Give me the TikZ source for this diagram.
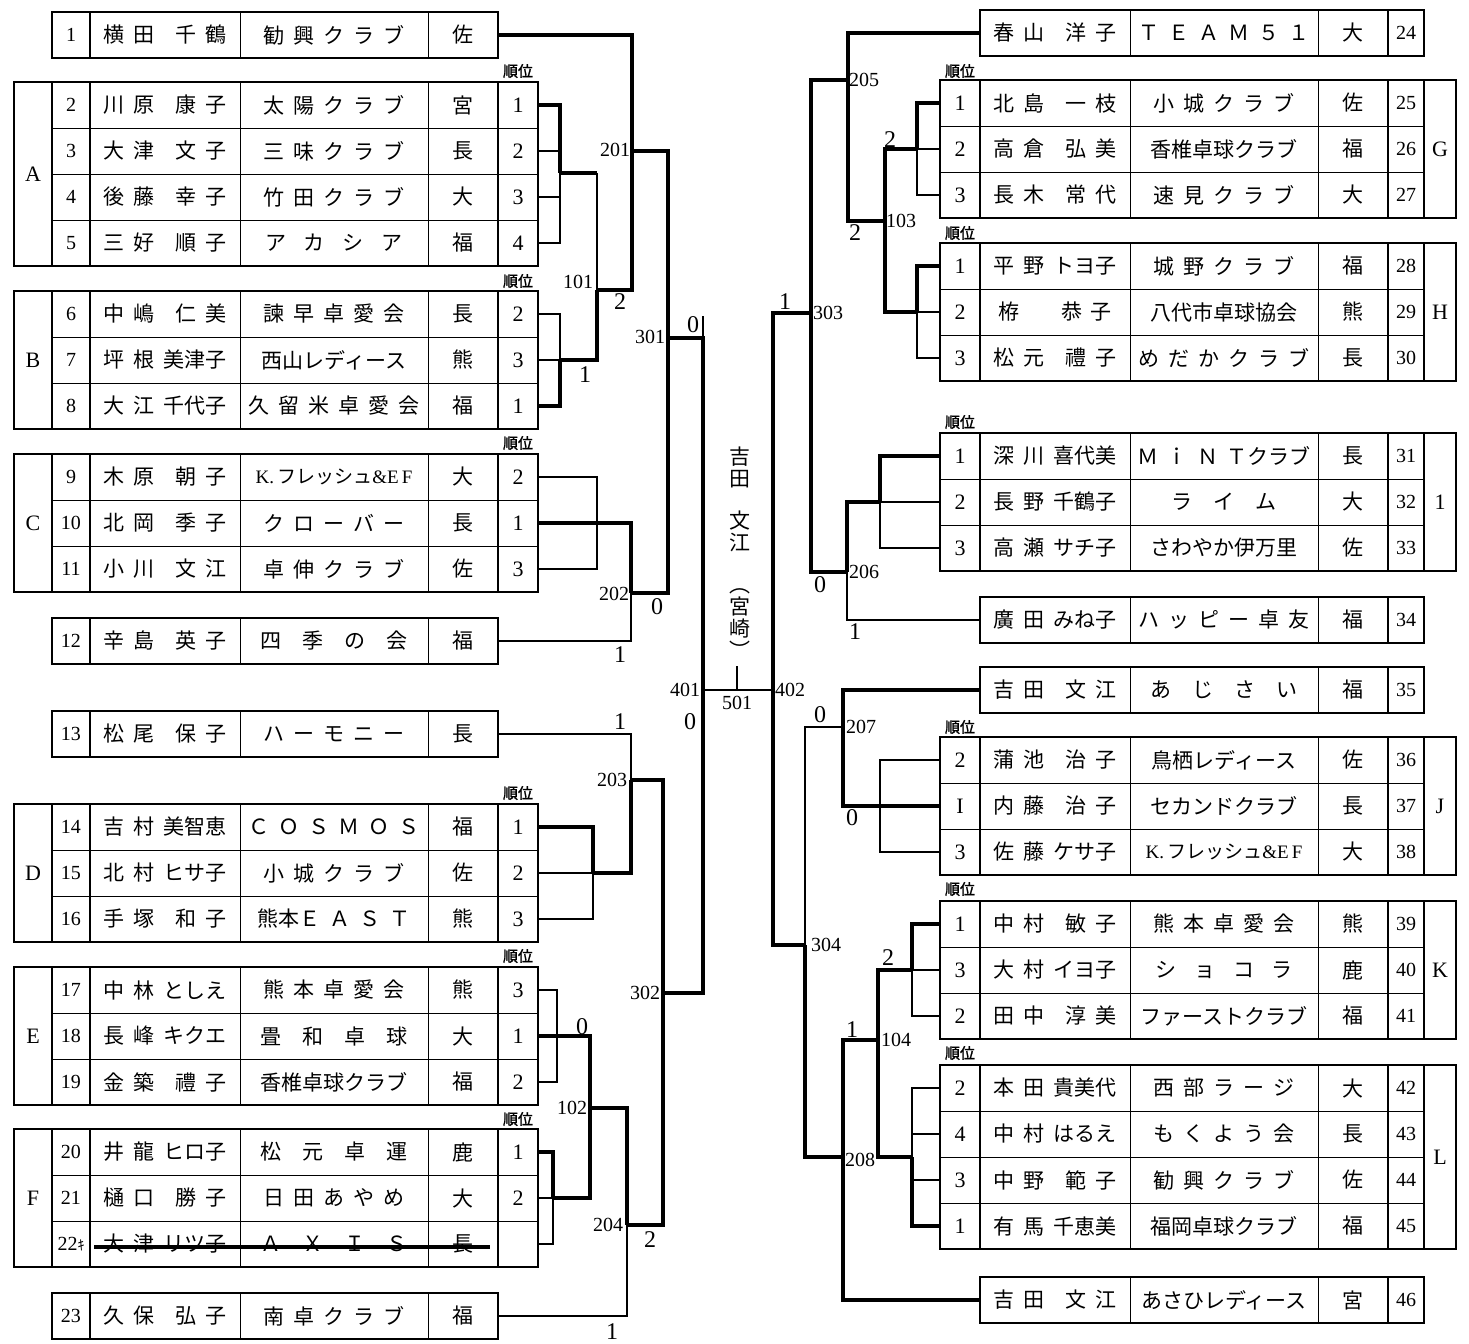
\documentclass[tikz,border=0pt]{standalone}
\usepackage{fontspec}
\setmainfont{Liberation Serif}
\newfontfamily\jp{Noto Sans CJK JP}
\newfontfamily\jpb[FakeBold=1.5]{Noto Sans CJK JP}
\usepackage{tikz}

\tikzset{
  cell/.style={draw, line width=0.5pt, inner sep=0pt, outer sep=0pt, minimum height=23pt},
  boxline/.style={line width=1.2pt},
  wire/.style={line width=0.7pt},
  win/.style={line width=1.7pt},
  jtxt/.style={font={\jp\fontsize{10.5}{10.5}\selectfont\spaceskip=4.5pt}},
  ntxt/.style={font=\fontsize{10}{10}\selectfont},
  rtxt/.style={font=\fontsize{11}{11}\selectfont},
  gtxt/.style={font=\fontsize{11}{11}\selectfont},
  mlab/.style={font=\fontsize{10}{10}\selectfont, inner sep=1pt},
  score/.style={font=\fontsize{12}{12}\selectfont, inner sep=1pt},
  juni/.style={font=\jpb\fontsize{7.5}{7.5}\selectfont, inner sep=0pt},
  wlab/.style={minimum width=19pt}, wnum/.style={minimum width=19pt},
  wname/.style={minimum width=75pt}, wclub/.style={minimum width=94pt},
  wpref/.style={minimum width=35pt}, wrank/.style={minimum width=20pt},
  wnumr/.style={minimum width=18pt}, wlabr/.style={minimum width=16pt}
}

\newcommand{\kfresh}{{\fontsize{9.5}{9.5}\selectfont{\rmfamily K.}\,フレッシュ{\rmfamily\&E\,F}}}

% left side rows
\newcommand{\lsingle}[5]{%
  \node[cell, wnum, ntxt] (n#1) at (71,#2) {#1};
  \node[cell, wname, jtxt] (m#1) at (165,#2) {#3};
  \node[cell, wclub, jtxt] (c#1) at (334,#2) {#4};
  \node[cell, wpref, jtxt] (p#1) at (463,#2) {#5};
  \draw[boxline] (n#1.north west) rectangle (p#1.south east);
  \draw[boxline] (n#1.north east) -- (n#1.south east);
}
\newcommand{\lrow}[7][]{%
  \node[cell, wnum, ntxt] (n#2) at (71,#3) {#2#1};
  \node[cell, wname, jtxt] (m#2) at (165,#3) {#4};
  \node[cell, wclub, jtxt] (c#2) at (334,#3) {#5};
  \node[cell, wpref, jtxt] (p#2) at (463,#3) {#6};
  \node[cell, wrank, rtxt] (r#2) at (518,#3) {#7};
}
\newcommand{\lblock}[5]{%
  \node[cell, wlab, gtxt, minimum height=#3*23pt] (lb#1) at (33,#2) {#1};
  \draw[boxline] (lb#1.north west) rectangle (r#5.south east);
  \draw[boxline] (n#4.north west) -- (n#5.south west);
  \draw[boxline] (n#4.north east) -- (n#5.south east);
  \draw[boxline] (p#4.north east) -- (p#5.south east);
}
% right side rows
\newcommand{\rsingle}[5]{%
  \node[cell, wname, jtxt] (m#1) at (1055,#2) {#3};
  \node[cell, wclub, jtxt] (c#1) at (1224,#2) {#4};
  \node[cell, wpref, jtxt] (p#1) at (1353,#2) {#5};
  \node[cell, wnumr, ntxt] (n#1) at (1406,#2) {#1};
  \draw[boxline] (m#1.north west) rectangle (n#1.south east);
  \draw[boxline] (n#1.north west) -- (n#1.south west);
}
\newcommand{\rrow}[6]{%
  \node[cell, wrank, rtxt] (r#1) at (960,#2) {#3};
  \node[cell, wname, jtxt] (m#1) at (1055,#2) {#4};
  \node[cell, wclub, jtxt] (c#1) at (1224,#2) {#5};
  \node[cell, wpref, jtxt] (p#1) at (1353,#2) {#6};
  \node[cell, wnumr, ntxt] (n#1) at (1406,#2) {#1};
}
\newcommand{\rblock}[6]{%
  \node[cell, wlabr, gtxt, minimum height=#4*23pt] (lb#1) at (1440,#3) {#2};
  \draw[boxline] (r#5.north west) rectangle (lb#1.south east);
  \draw[boxline] (r#5.north east) -- (r#6.south east);
  \draw[boxline] (n#5.north west) -- (n#6.south west);
  \draw[boxline] (n#5.north east) -- (n#6.south east);
}

\begin{document}
\begin{tikzpicture}[x=0.5pt, y=-0.5pt]
\useasboundingbox (0,0) rectangle (1469,1344);

% left tables
\lsingle{1}{35}{横 田　千 鶴}{勧 興 ク ラ ブ}{佐}
\lrow{2}{105}{川 原　康 子}{太 陽 ク ラ ブ}{宮}{1}
\lrow{3}{151}{大 津　文 子}{三 味 ク ラ ブ}{長}{2}
\lrow{4}{197}{後 藤　幸 子}{竹 田 ク ラ ブ}{大}{3}
\lrow{5}{243}{三 好　順 子}{ア~~カ~~シ~~ア}{福}{4}
\lblock{A}{174}{4}{2}{5}
\lrow{6}{314}{中 嶋　仁 美}{諫 早 卓 愛 会}{長}{2}
\lrow{7}{360}{坪 根 美津子}{西山レディース}{熊}{3}
\lrow{8}{406}{大 江 千代子}{久 留 米 卓 愛 会}{福}{1}
\lblock{B}{360}{3}{6}{8}
\lrow{9}{477}{木 原　朝 子}{\kfresh}{大}{2}
\lrow{10}{523}{北 岡　季 子}{ク ロ ー バ ー}{長}{1}
\lrow{11}{569}{小 川　文 江}{卓 伸 ク ラ ブ}{佐}{3}
\lblock{C}{523}{3}{9}{11}
\lsingle{12}{641}{辛 島　英 子}{四　季　の　会}{福}
\lsingle{13}{734}{松 尾　保 子}{ハ ー モ ニ ー}{長}
\lrow{14}{827}{吉 村 美智恵}{Ｃ Ｏ Ｓ Ｍ Ｏ Ｓ}{福}{1}
\lrow{15}{873}{北 村 ヒサ子}{小 城 ク ラ ブ}{佐}{2}
\lrow{16}{919}{手 塚　和 子}{熊本Ｅ Ａ Ｓ Ｔ}{熊}{3}
\lblock{D}{873}{3}{14}{16}
\lrow{17}{990}{中 林 としえ}{熊 本 卓 愛 会}{熊}{3}
\lrow{18}{1036}{長 峰 キクエ}{畳　和　卓　球}{大}{1}
\lrow{19}{1082}{金 築　禮 子}{香椎卓球クラブ}{福}{2}
\lblock{E}{1036}{3}{17}{19}
\lrow{20}{1152}{井 龍 ヒロ子}{松　元　卓　運}{鹿}{1}
\lrow{21}{1198}{樋 口　勝 子}{日 田 あ や め}{大}{2}
\lrow[{\jp\fontsize{7}{7}\selectfont ｷ}]{22}{1244}{大 津 リツ子}{Ａ　Ｘ　Ｉ　Ｓ}{長}{}
\lblock{F}{1198}{3}{20}{22}
\draw[win] ([yshift=-1.5pt,xshift=2pt]m22.west) -- ([yshift=-1.5pt,xshift=-4pt]p22.east);
\lsingle{23}{1316}{久 保　弘 子}{南 卓 ク ラ ブ}{福}

% right tables
\rsingle{24}{33}{春 山　洋 子}{Ｔ Ｅ Ａ Ｍ ５ １}{大}
\rrow{25}{103}{1}{北 島　一 枝}{小 城 ク ラ ブ}{佐}
\rrow{26}{149}{2}{高 倉　弘 美}{香椎卓球クラブ}{福}
\rrow{27}{195}{3}{長 木　常 代}{速 見 ク ラ ブ}{大}
\rblock{G}{G}{149}{3}{25}{27}
\rrow{28}{266}{1}{平 野 トヨ子}{城 野 ク ラ ブ}{福}
\rrow{29}{312}{2}{栫　　恭 子}{八代市卓球協会}{熊}
\rrow{30}{358}{3}{松 元　禮 子}{め だ か ク ラ ブ}{長}
\rblock{H}{H}{312}{3}{28}{30}
\rrow{31}{456}{1}{深 川 喜代美}{Ｍ ｉ Ｎ Ｔクラブ}{長}
\rrow{32}{502}{2}{長 野 千鶴子}{ラ　イ　ム}{大}
\rrow{33}{548}{3}{高 瀬 サチ子}{さわやか伊万里}{佐}
\rblock{I}{1}{502}{3}{31}{33}
\rsingle{34}{620}{廣 田 みね子}{ハ ッ ピ ー 卓 友}{福}
\rsingle{35}{690}{吉 田　文 江}{あ　じ　さ　い}{福}
\rrow{36}{760}{2}{蒲 池　治 子}{鳥栖レディース}{佐}
\rrow{37}{806}{I}{内 藤　治 子}{セカンドクラブ}{長}
\rrow{38}{852}{3}{佐 藤 ケサ子}{\kfresh}{大}
\rblock{J}{J}{806}{3}{36}{38}
\rrow{39}{924}{1}{中 村　敏 子}{熊 本 卓 愛 会}{熊}
\rrow{40}{970}{3}{大 村 イヨ子}{シ~~ョ~~コ~~ラ}{鹿}
\rrow{41}{1016}{2}{田 中　淳 美}{ファーストクラブ}{福}
\rblock{K}{K}{970}{3}{39}{41}
\rrow{42}{1088}{2}{本 田 貴美代}{西 部 ラ ー ジ}{大}
\rrow{43}{1134}{4}{中 村 はるえ}{も く よ う 会}{長}
\rrow{44}{1180}{3}{中 野　範 子}{勧 興 ク ラ ブ}{佐}
\rrow{45}{1226}{1}{有 馬 千恵美}{福岡卓球クラブ}{福}
\rblock{L}{L}{1157}{4}{42}{45}
\rsingle{46}{1300}{吉 田　文 江}{あさひレディース}{宮}

% rank headers
\node[juni] (hA) at (518,71) {順位};
\node[juni] (hB) at (518,281) {順位};
\node[juni] (hC) at (518,443) {順位};
\node[juni] (hD) at (518,793) {順位};
\node[juni] (hE) at (518,956) {順位};
\node[juni] (hF) at (518,1119) {順位};
\node[juni] (hG) at (960,71) {順位};
\node[juni] (hH) at (960,233) {順位};
\node[juni] (hI) at (960,422) {順位};
\node[juni] (hJ) at (960,727) {順位};
\node[juni] (hK) at (960,889) {順位};
\node[juni] (hL) at (960,1053) {順位};

% champion
\node[font={\jp\fontsize{10.5}{11}\selectfont}, align=center, inner sep=0pt] (champ) at (740,553)
  {吉\\田\\[10pt]文\\江\\[10pt]︵\\宮\\崎\\︶};

% junctions
\coordinate (jA) at (560,173);
\coordinate (jB) at (560,360);
\coordinate (jC) at (597,523);
\coordinate (jD) at (593,873);
\coordinate (jE) at (557,1036);
\coordinate (jF) at (553,1198);
\coordinate (k101) at (597,290);
\coordinate (k201) at (632,151);
\coordinate (k202) at (631,593);
\coordinate (k301) at (668,338);
\coordinate (k203) at (631,780);
\coordinate (k102) at (590,1108);
\coordinate (k204) at (627,1225);
\coordinate (k302) at (663,993);
\coordinate (k401) at (703,690);
\coordinate (k501) at (737,690);
\coordinate (k402) at (773,690);
\coordinate (jG) at (917,149);
\coordinate (jH) at (917,312);
\coordinate (jI) at (880,502);
\coordinate (jJ) at (880,806);
\coordinate (jK) at (912,970);
\coordinate (jL) at (912,1157);
\coordinate (k103) at (885,221);
\coordinate (k205) at (848,80);
\coordinate (k206) at (847,572);
\coordinate (k303) at (811,313);
\coordinate (k207) at (843,727);
\coordinate (k104) at (878,1040);
\coordinate (k208) at (843,1157);
\coordinate (k304) at (805,945);

% thin lines
\draw[wire] (r3.east) -| (jA);
\draw[wire] (r4.east) -| (jA);
\draw[wire] (r5.east) -| (jA);
\draw[wire] (r6.east) -| (jB);
\draw[wire] (r7.east) -- (jB);
\draw[wire] (jA -| k101) -- (k101);
\draw[wire] (r9.east) -| (jC);
\draw[wire] (r11.east) -| (jC);
\draw[wire] (p12.east) -| (k202);
\draw[wire] (p13.east) -| (k203);
\draw[wire] (r15.east) -- (jD);
\draw[wire] (r16.east) -| (jD);
\draw[wire] (r17.east) -| (jE);
\draw[wire] (r19.east) -| (jE);
\draw[wire] (r21.east) -- (jF);
\draw[wire] (r22.east) -| (jF);
\draw[wire] (p23.east) -| (k204);
\draw[wire] (k401) -- (k402);
\draw[wire] (k301 -| k401) -- ++(0,-22);
\draw[line width=1pt] (k501) -- ++(0,-24);
\draw[wire] (r26.west) -- (jG);
\draw[wire] (r27.west) -| (jG);
\draw[wire] (r29.west) -- (jH);
\draw[wire] (r30.west) -| (jH);
\draw[wire] (r32.west) -- (jI);
\draw[wire] (r33.west) -| (jI);
\draw[wire] (m34.west) -| (k206);
\draw[wire] (r36.west) -| (jJ);
\draw[wire] (r38.west) -| (jJ);
\draw[wire] (k207) -| (k304);
\draw[wire] (r40.west) -- (jK);
\draw[wire] (r41.west) -| (jK);
\draw[wire] (r42.west) -| (jL);
\draw[wire] (r43.west) -| (jL);
\draw[wire] (r44.west) -| (jL);

% thick lines
\draw[win] (r2.east) -| (jA);
\draw[win] (jA) -- (jA -| k101);
\draw[win] (r8.east) -| (jB);
\draw[win] (jB) -| (k101);
\draw[win] (k101) -| (k201);
\draw[win] (p1.east) -| (k201);
\draw[win] (k201) -| (k301);
\draw[win] (r10.east) -| (k202);
\draw[win] (k202) -| (k301);
\draw[win] (k301) -| (k401);
\draw[win] (r14.east) -| (jD);
\draw[win] (jD) -| (k203);
\draw[win] (k203) -| (k302);
\draw[win] (k302) -| (k401);
\draw[win] (r18.east) -- (jE);
\draw[win] (jE) -| (k102);
\draw[win] (r20.east) -| (jF);
\draw[win] (jF) -| (k102);
\draw[win] (k102) -| (k204);
\draw[win] (k204) -| (k302);
\draw[win] (m24.west) -| (k205);
\draw[win] (k205) -| (k303);
\draw[win] (k303) -| (k402);
\draw[win] (r25.west) -| (jG);
\draw[win] (jG) -| (k103);
\draw[win] (r28.west) -| (jH);
\draw[win] (jH) -| (k103);
\draw[win] (k103) -| (k205);
\draw[win] (r31.west) -| (jI);
\draw[win] (jI) -| (k206);
\draw[win] (k206) -| (k303);
\draw[win] (m35.west) -| (k207);
\draw[win] (r37.west) -- (jJ);
\draw[win] (jJ) -| (k207);
\draw[win] (r39.west) -| (jK);
\draw[win] (jK) -| (k104);
\draw[win] (r45.west) -| (jL);
\draw[win] (jL) -| (k104);
\draw[win] (k104) -| (k208);
\draw[win] (m46.west) -| (k208);
\draw[win] (k208) -| (k304);
\draw[win] (k304) -| (k402);

% match numbers
\node[mlab] (l101) at (578,282) {101};
\node[mlab] (l201) at (615,150) {201};
\node[mlab] (l301) at (650,337) {301};
\node[mlab] (l202) at (614,594) {202};
\node[mlab] (l203) at (612,780) {203};
\node[mlab] (l102) at (572,1108) {102};
\node[mlab] (l204) at (608,1225) {204};
\node[mlab] (l302) at (645,993) {302};
\node[mlab] (l401) at (685,690) {401};
\node[mlab] (l501) at (737,703) {501};
\node[mlab] (l402) at (790,690) {402};
\node[mlab] (l205) at (864,80) {205};
\node[mlab] (l103) at (901,221) {103};
\node[mlab] (l303) at (828,313) {303};
\node[mlab] (l206) at (864,572) {206};
\node[mlab] (l207) at (861,727) {207};
\node[mlab] (l304) at (826,945) {304};
\node[mlab] (l104) at (896,1040) {104};
\node[mlab] (l208) at (860,1160) {208};

% scores
\node[score] (sc1) at (620,302) {2};
\node[score] (sc2) at (585,375) {1};
\node[score] (sc3) at (693,325) {0};
\node[score] (sc4) at (657,607) {0};
\node[score] (sc5) at (620,655) {1};
\node[score] (sc6) at (620,722) {1};
\node[score] (sc7) at (690,722) {0};
\node[score] (sc8) at (582,1027) {0};
\node[score] (sc9) at (650,1240) {2};
\node[score] (sc10) at (612,1332) {1};
\node[score] (sc11) at (785,302) {1};
\node[score] (sc12) at (855,233) {2};
\node[score] (sc13) at (890,140) {2};
\node[score] (sc14) at (820,585) {0};
\node[score] (sc15) at (855,632) {1};
\node[score] (sc16) at (820,715) {0};
\node[score] (sc17) at (852,818) {0};
\node[score] (sc18) at (888,958) {2};
\node[score] (sc19) at (852,1030) {1};
\end{tikzpicture}
\end{document}
